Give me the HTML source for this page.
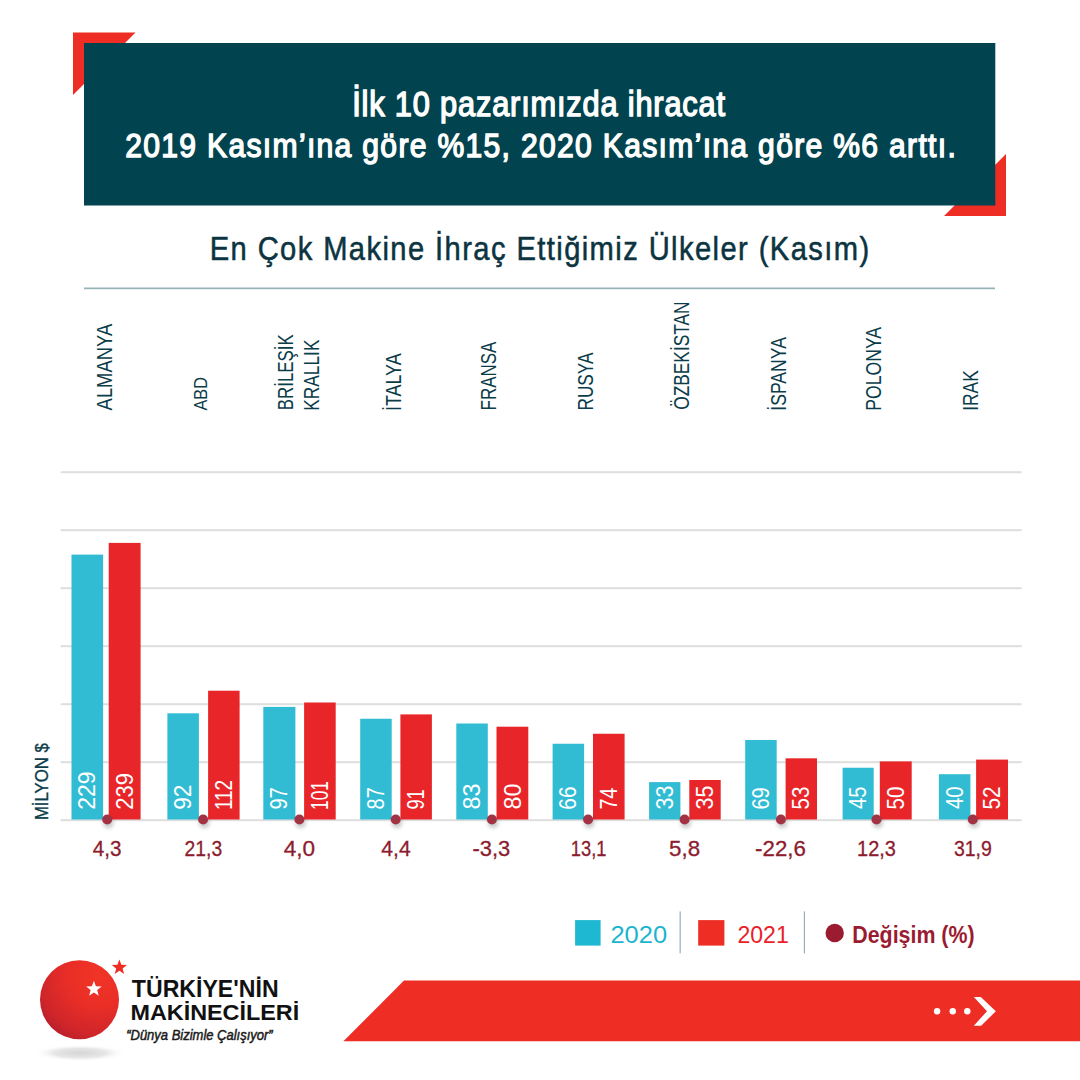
<!DOCTYPE html><html lang="tr"><head><meta charset="utf-8"><title>En Çok Makine İhraç Ettiğimiz Ülkeler</title>
<style>html,body{margin:0;padding:0;background:#fff;}svg{display:block;}text{font-family:"Liberation Sans",Arial,sans-serif;}</style></head><body>
<svg width="1080" height="1080" viewBox="0 0 1080 1080">
<defs>
<radialGradient id="ball" cx="0.74" cy="0.2" r="1.0"><stop offset="0" stop-color="#f03426"/><stop offset="0.4" stop-color="#e92e27"/><stop offset="0.75" stop-color="#cf252a"/><stop offset="1" stop-color="#a81d2c"/></radialGradient>
<radialGradient id="shadow" cx="0.5" cy="0.5" r="0.5"><stop offset="0" stop-color="#d6d6d6"/><stop offset="0.55" stop-color="#e6e6e6"/><stop offset="1" stop-color="#ffffff" stop-opacity="0"/></radialGradient>
<filter id="dsh" x="-1" y="-1" width="3" height="3"><feGaussianBlur stdDeviation="2.2"/></filter>
</defs>
<rect width="1080" height="1080" fill="#fff"/>
<polygon points="73,32.5 135.5,32.5 73,95" fill="#ee2e24"/>
<polygon points="1006,154 1006,216 944,216" fill="#ee2e24"/>
<rect x="84" y="43" width="911.3" height="162.5" fill="#01434e"/>
<text transform="translate(352.23 115.8) scale(0.9 1)" font-size="34.203" font-weight="400" style="letter-spacing:0.916px" fill="#ffffff" stroke="#fff" stroke-width="1.4">İlk 10 pazarımızda ihracat</text>
<text transform="translate(125.196 156.8) scale(0.9 1)" font-size="33.429" font-weight="400" style="letter-spacing:1.462px" fill="#ffffff" stroke="#fff" stroke-width="1.4">2019 Kasım’ına göre %15, 2020 Kasım’ına göre %6 arttı.</text>
<text transform="translate(209.667 260.3) scale(0.86 1)" font-size="33.913" font-weight="400" style="letter-spacing:1.633px" fill="#0c3440" stroke="#0c3440" stroke-width="0.55">En Çok Makine İhraç Ettiğimiz Ülkeler (Kasım)</text>
<rect x="84" y="287.5" width="911" height="1.7" fill="#94b3b8"/>
<text transform="translate(111.5 410.4) rotate(-90) scale(0.82 1)" font-size="22.464" font-weight="400" fill="#0b3c49">ALMANYA</text>
<text transform="translate(207.3 410.6) rotate(-90) scale(0.849 1)" font-size="19.275" font-weight="400" fill="#0b3c49">ABD</text>
<text transform="translate(293.3 410.148) rotate(-90) scale(0.755 1)" font-size="22.319" font-weight="400" fill="#0b3c49">BRİLEŞİK</text>
<text transform="translate(318.8 410.683) rotate(-90) scale(0.801 1)" font-size="21.594" font-weight="400" fill="#0b3c49">KRALLIK</text>
<text transform="translate(400.9 411.007) rotate(-90) scale(0.816 1)" font-size="21.884" font-weight="400" fill="#0b3c49">İTALYA</text>
<text transform="translate(495.8 410.456) rotate(-90) scale(0.77 1)" font-size="22.029" font-weight="400" fill="#0b3c49">FRANSA</text>
<text transform="translate(592.9 410.476) rotate(-90) scale(0.766 1)" font-size="22.464" font-weight="400" fill="#0b3c49">RUSYA</text>
<text transform="translate(689.1 409.765) rotate(-90) scale(0.786 1)" font-size="22.029" font-weight="400" fill="#0b3c49">ÖZBEKİSTAN</text>
<text transform="translate(785.8 410.684) rotate(-90) scale(0.799 1)" font-size="22.029" font-weight="400" fill="#0b3c49">İSPANYA</text>
<text transform="translate(880.9 410.709) rotate(-90) scale(0.784 1)" font-size="22.464" font-weight="400" fill="#0b3c49">POLONYA</text>
<text transform="translate(977.8 410.762) rotate(-90) scale(0.768 1)" font-size="22.609" font-weight="400" fill="#0b3c49">IRAK</text>
<rect x="60.7" y="471.2" width="961" height="2" fill="#dedede"/>
<rect x="60.7" y="529.2" width="961" height="2" fill="#dedede"/>
<rect x="60.7" y="587.2" width="961" height="2" fill="#dedede"/>
<rect x="60.7" y="645.2" width="961" height="2" fill="#dedede"/>
<rect x="60.7" y="703.2" width="961" height="2" fill="#dedede"/>
<rect x="60.7" y="761.2" width="961" height="2" fill="#dedede"/>
<rect x="60.7" y="819.2" width="961" height="2" fill="#dedede"/>
<text transform="translate(47.9 820.091) rotate(-90) scale(0.897 1)" font-size="18.696" font-weight="400" fill="#0b3c49" stroke="#0b3c49" stroke-width="0.35">MİLYON $</text>
<rect x="71.5" y="554.6" width="31.6" height="264.9" fill="#31bcd3"/>
<text transform="translate(95.4 809.75) rotate(-90) scale(0.958 1)" font-size="24" font-weight="400" fill="#ffffff">229</text>
<rect x="108.7" y="542.9" width="31.9" height="276.6" fill="#e8262a"/>
<text transform="translate(132.75 809.702) rotate(-90) scale(0.918 1)" font-size="24" font-weight="400" fill="#ffffff">239</text>
<rect x="167.4" y="713.3" width="31.5" height="106.2" fill="#31bcd3"/>
<text transform="translate(191.25 809.729) rotate(-90) scale(0.941 1)" font-size="24" font-weight="400" fill="#ffffff">92</text>
<rect x="208.1" y="690.7" width="31.5" height="128.8" fill="#e8262a"/>
<text transform="translate(231.95 810.123) rotate(-90) scale(0.793 1)" font-size="24" font-weight="400" fill="#ffffff">112</text>
<rect x="263.3" y="706.9" width="32.1" height="112.6" fill="#31bcd3"/>
<text transform="translate(287.45 809.605) rotate(-90) scale(0.837 1)" font-size="24" font-weight="400" fill="#ffffff">97</text>
<rect x="304.1" y="702.5" width="31.6" height="117" fill="#e8262a"/>
<text transform="translate(328 809.987) rotate(-90) scale(0.722 1)" font-size="24" font-weight="400" fill="#ffffff">101</text>
<rect x="360.2" y="718.75" width="31.5" height="100.75" fill="#31bcd3"/>
<text transform="translate(384.05 809.396) rotate(-90) scale(0.829 1)" font-size="24" font-weight="400" fill="#ffffff">87</text>
<rect x="400.4" y="714.4" width="31.5" height="105.1" fill="#e8262a"/>
<text transform="translate(424.25 809.511) rotate(-90) scale(0.759 1)" font-size="24" font-weight="400" fill="#ffffff">91</text>
<rect x="456.3" y="723.5" width="31.5" height="96" fill="#31bcd3"/>
<text transform="translate(480.15 809.532) rotate(-90) scale(0.971 1)" font-size="24" font-weight="400" fill="#ffffff">83</text>
<rect x="496.5" y="726.7" width="31.8" height="92.8" fill="#e8262a"/>
<text transform="translate(520.5 809.532) rotate(-90) scale(0.971 1)" font-size="24" font-weight="400" fill="#ffffff">80</text>
<rect x="552.6" y="743.75" width="31.5" height="75.75" fill="#31bcd3"/>
<text transform="translate(576.45 809.639) rotate(-90) scale(0.866 1)" font-size="24" font-weight="400" fill="#ffffff">66</text>
<rect x="593" y="733.75" width="31.6" height="85.75" fill="#e8262a"/>
<text transform="translate(616.9 809.585) rotate(-90) scale(0.821 1)" font-size="24" font-weight="400" fill="#ffffff">74</text>
<rect x="649.1" y="782.1" width="31.3" height="37.4" fill="#31bcd3"/>
<text transform="translate(672.85 809.458) rotate(-90) scale(0.894 1)" font-size="24" font-weight="400" fill="#ffffff">33</text>
<rect x="689.3" y="780" width="31.4" height="39.5" fill="#e8262a"/>
<text transform="translate(713.1 809.458) rotate(-90) scale(0.894 1)" font-size="24" font-weight="400" fill="#ffffff">35</text>
<rect x="745.2" y="740" width="31.5" height="79.5" fill="#31bcd3"/>
<text transform="translate(769.05 809.605) rotate(-90) scale(0.837 1)" font-size="24" font-weight="400" fill="#ffffff">69</text>
<rect x="785.6" y="758.3" width="31.4" height="61.2" fill="#e8262a"/>
<text transform="translate(809.4 809.423) rotate(-90) scale(0.858 1)" font-size="24" font-weight="400" fill="#ffffff">53</text>
<rect x="842.6" y="767.75" width="31.1" height="51.75" fill="#31bcd3"/>
<text transform="translate(866.25 809.004) rotate(-90) scale(0.841 1)" font-size="24" font-weight="400" fill="#ffffff">45</text>
<rect x="879.8" y="761.4" width="31.9" height="58.1" fill="#e8262a"/>
<text transform="translate(903.85 809.423) rotate(-90) scale(0.858 1)" font-size="24" font-weight="400" fill="#ffffff">50</text>
<rect x="938.9" y="774.2" width="31.5" height="45.3" fill="#31bcd3"/>
<text transform="translate(962.75 809.004) rotate(-90) scale(0.841 1)" font-size="24" font-weight="400" fill="#ffffff">40</text>
<rect x="976.1" y="759.6" width="31.9" height="59.9" fill="#e8262a"/>
<text transform="translate(1000.15 809.431) rotate(-90) scale(0.866 1)" font-size="24" font-weight="400" fill="#ffffff">52</text>
<circle cx="108.4" cy="822.7" r="5.2" fill="#000" opacity="0.22" filter="url(#dsh)"/>
<circle cx="107.2" cy="819.5" r="5" fill="#a23344"/>
<text transform="translate(92.836 856.2) scale(0.965 1)" font-size="21.429" font-weight="400" fill="#8c1c2e" stroke="#8c1c2e" stroke-width="0.3">4,3</text>
<circle cx="204.3" cy="822.7" r="5.2" fill="#000" opacity="0.22" filter="url(#dsh)"/>
<circle cx="203.1" cy="819.5" r="5" fill="#a23344"/>
<text transform="translate(184.534 856.2) scale(0.902 1)" font-size="21.429" font-weight="400" fill="#8c1c2e" stroke="#8c1c2e" stroke-width="0.3">21,3</text>
<circle cx="300.6" cy="822.7" r="5.2" fill="#000" opacity="0.22" filter="url(#dsh)"/>
<circle cx="299.4" cy="819.5" r="5" fill="#a23344"/>
<text transform="translate(283.799 856.2) scale(1.053 1)" font-size="21.429" font-weight="400" fill="#8c1c2e" stroke="#8c1c2e" stroke-width="0.3">4,0</text>
<circle cx="396.9" cy="822.7" r="5.2" fill="#000" opacity="0.22" filter="url(#dsh)"/>
<circle cx="395.7" cy="819.5" r="5" fill="#a23344"/>
<text transform="translate(381.278 856.2) scale(0.986 1)" font-size="21.429" font-weight="400" fill="#8c1c2e" stroke="#8c1c2e" stroke-width="0.3">4,4</text>
<circle cx="493.1" cy="822.7" r="5.2" fill="#000" opacity="0.22" filter="url(#dsh)"/>
<circle cx="491.9" cy="819.5" r="5" fill="#a23344"/>
<text transform="translate(472.422 856.2) scale(1.024 1)" font-size="21.429" font-weight="400" fill="#8c1c2e" stroke="#8c1c2e" stroke-width="0.3">-3,3</text>
<circle cx="589.3" cy="822.7" r="5.2" fill="#000" opacity="0.22" filter="url(#dsh)"/>
<circle cx="588.1" cy="819.5" r="5" fill="#a23344"/>
<text transform="translate(570.832 856.2) scale(0.856 1)" font-size="21.429" font-weight="400" fill="#8c1c2e" stroke="#8c1c2e" stroke-width="0.3">13,1</text>
<circle cx="685.8" cy="822.7" r="5.2" fill="#000" opacity="0.22" filter="url(#dsh)"/>
<circle cx="684.6" cy="819.5" r="5" fill="#a23344"/>
<text transform="translate(669.105 856.2) scale(1.044 1)" font-size="21.429" font-weight="400" fill="#8c1c2e" stroke="#8c1c2e" stroke-width="0.3">5,8</text>
<circle cx="782.1" cy="822.7" r="5.2" fill="#000" opacity="0.22" filter="url(#dsh)"/>
<circle cx="780.9" cy="819.5" r="5" fill="#a23344"/>
<text transform="translate(755.109 856.2) scale(1.04 1)" font-size="21.429" font-weight="400" fill="#8c1c2e" stroke="#8c1c2e" stroke-width="0.3">-22,6</text>
<circle cx="877.7" cy="822.7" r="5.2" fill="#000" opacity="0.22" filter="url(#dsh)"/>
<circle cx="876.5" cy="819.5" r="5" fill="#a23344"/>
<text transform="translate(857.104 856.2) scale(0.931 1)" font-size="21.429" font-weight="400" fill="#8c1c2e" stroke="#8c1c2e" stroke-width="0.3">12,3</text>
<circle cx="974" cy="822.7" r="5.2" fill="#000" opacity="0.22" filter="url(#dsh)"/>
<circle cx="972.8" cy="819.5" r="5" fill="#a23344"/>
<text transform="translate(953.919 856.2) scale(0.911 1)" font-size="21.429" font-weight="400" fill="#8c1c2e" stroke="#8c1c2e" stroke-width="0.3">31,9</text>
<rect x="575.1" y="920.1" width="25.5" height="25.5" fill="#1fb8d3"/>
<text transform="translate(610.423 942.5) scale(1.039 1)" font-size="24.571" font-weight="400" fill="#1cb5cf">2020</text>
<rect x="679.6" y="911.4" width="1.1" height="42" fill="#8fa9ae"/>
<rect x="698.2" y="920.1" width="26.2" height="25.5" fill="#ee2e24"/>
<text transform="translate(737.447 942.5) scale(0.939 1)" font-size="24.571" font-weight="400" fill="#e9212a">2021</text>
<rect x="803.8" y="911.4" width="1.1" height="42" fill="#8fa9ae"/>
<circle cx="834.7" cy="933" r="9.2" fill="#9b1b30"/>
<text transform="translate(852.304 942.8) scale(0.894 1)" font-size="23.913" font-weight="700" fill="#9b1b30">Değişim (%)</text>
<polygon points="404,980.6 1080,980.6 1080,1041.3 343.4,1041.3" fill="#ee2e24"/>
<circle cx="937.1" cy="1011.2" r="3.2" fill="#fff"/>
<circle cx="952.75" cy="1011.2" r="3.2" fill="#fff"/>
<circle cx="967.3" cy="1011.2" r="3.2" fill="#fff"/>
<polygon points="973.8,997.1 980.8,997.1 995.8,1011.2 981.2,1025.8 973.8,1025.8 987,1011.2" fill="#fff"/>
<ellipse cx="80" cy="1053" rx="47" ry="8.5" fill="url(#shadow)"/>
<circle cx="79.5" cy="999.7" r="39.5" fill="url(#ball)"/>
<polygon points="93.9,980.8 95.924,986.214 101.699,986.466 97.175,990.064 98.72,995.634 93.9,992.444 89.08,995.634 90.625,990.064 86.101,986.466 91.876,986.214" fill="#fff"/>
<polygon points="119.4,959.5 121.375,964.782 127.008,965.028 122.596,968.538 124.102,973.972 119.4,970.86 114.698,973.972 116.204,968.538 111.792,965.028 117.425,964.782" fill="#ee2e24"/>
<text transform="translate(131.869 996.8) scale(0.997 1)" font-size="23.188" font-weight="700" fill="#111111">TÜRKİYE'NİN</text>
<text transform="translate(130.463 1020.4) scale(1.021 1)" font-size="22.899" font-weight="700" fill="#111111">MAKİNECİLERİ</text>
<text transform="translate(126.19 1039.6) scale(0.897 1)" font-size="14.493" font-weight="400" font-style="italic" fill="#1a1a1a" stroke="#1a1a1a" stroke-width="0.5">“Dünya Bizimle Çalışıyor”</text>
</svg></body></html>
